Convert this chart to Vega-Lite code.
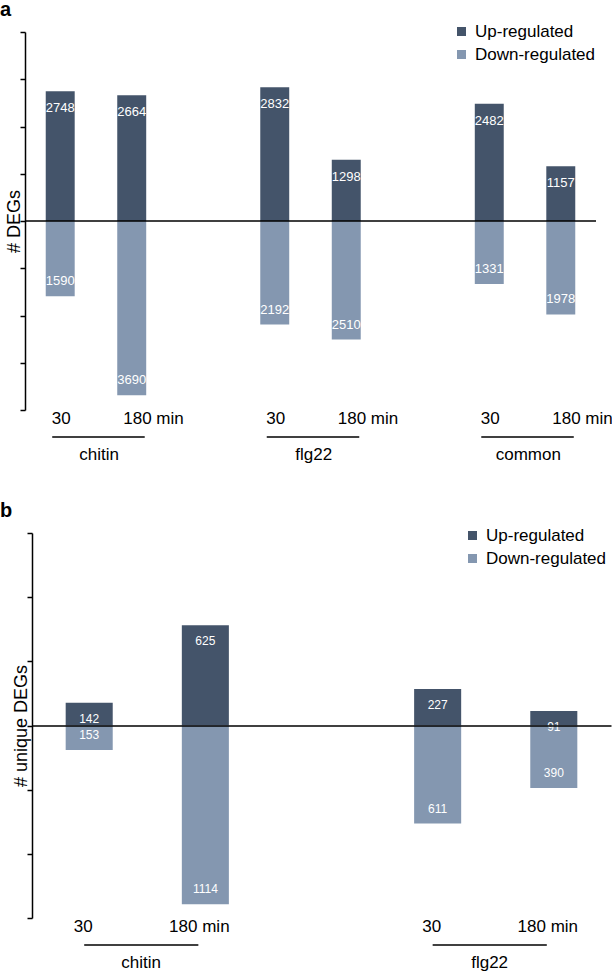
{
  "$schema": "https://vega.github.io/schema/vega-lite/v6.json",
  "padding": {"left": 0, "top": 0, "right": 0, "bottom": 0},
  "config": {
    "font": "Liberation Sans",
    "view": {"stroke": null},
    "title": {"color": "black"}
  },
  "datasets": {
    "barsA": [
      {"sample": "chitin 30", "dir": "Up-regulated", "n": 2748, "deg": 2748},
      {"sample": "chitin 30", "dir": "Down-regulated", "n": 1590, "deg": -1590},
      {"sample": "chitin 180", "dir": "Up-regulated", "n": 2664, "deg": 2664},
      {"sample": "chitin 180", "dir": "Down-regulated", "n": 3690, "deg": -3690},
      {"sample": "flg22 30", "dir": "Up-regulated", "n": 2832, "deg": 2832},
      {"sample": "flg22 30", "dir": "Down-regulated", "n": 2192, "deg": -2192},
      {"sample": "flg22 180", "dir": "Up-regulated", "n": 1298, "deg": 1298},
      {"sample": "flg22 180", "dir": "Down-regulated", "n": 2510, "deg": -2510},
      {"sample": "common 30", "dir": "Up-regulated", "n": 2482, "deg": 2482},
      {"sample": "common 30", "dir": "Down-regulated", "n": 1331, "deg": -1331},
      {"sample": "common 180", "dir": "Up-regulated", "n": 1157, "deg": 1157},
      {"sample": "common 180", "dir": "Down-regulated", "n": 1978, "deg": -1978}
    ],
    "labelsA": [
      {"row": "time", "sample": "chitin 30", "label": "30"},
      {"row": "time", "sample": "chitin 180", "label": "180 min"},
      {"row": "time", "sample": "flg22 30", "label": "30"},
      {"row": "time", "sample": "flg22 180", "label": "180 min"},
      {"row": "time", "sample": "common 30", "label": "30"},
      {"row": "time", "sample": "common 180", "label": "180 min"},
      {"row": "line", "sample": "chitin 30", "sample2": "chitin 180"},
      {"row": "line", "sample": "flg22 30", "sample2": "flg22 180"},
      {"row": "line", "sample": "common 30", "sample2": "common 180"},
      {"row": "group", "sample": "chitin 30", "label": "chitin"},
      {"row": "group", "sample": "flg22 30", "label": "flg22"},
      {"row": "group", "sample": "common 30", "label": "common"}
    ],
    "barsB": [
      {"sample": "chitin 30", "dir": "Up-regulated", "n": 142, "deg": 142},
      {"sample": "chitin 30", "dir": "Down-regulated", "n": 153, "deg": -153},
      {"sample": "chitin 180", "dir": "Up-regulated", "n": 625, "deg": 625},
      {"sample": "chitin 180", "dir": "Down-regulated", "n": 1114, "deg": -1114},
      {"sample": "flg22 30", "dir": "Up-regulated", "n": 227, "deg": 227},
      {"sample": "flg22 30", "dir": "Down-regulated", "n": 611, "deg": -611},
      {"sample": "flg22 180", "dir": "Up-regulated", "n": 91, "deg": 91},
      {"sample": "flg22 180", "dir": "Down-regulated", "n": 390, "deg": -390}
    ],
    "labelsB": [
      {"row": "time", "sample": "chitin 30", "label": "30"},
      {"row": "time", "sample": "chitin 180", "label": "180 min"},
      {"row": "time", "sample": "flg22 30", "label": "30"},
      {"row": "time", "sample": "flg22 180", "label": "180 min"},
      {"row": "line", "sample": "chitin 30", "sample2": "chitin 180"},
      {"row": "line", "sample": "flg22 30", "sample2": "flg22 180"},
      {"row": "group", "sample": "chitin 30", "label": "chitin"},
      {"row": "group", "sample": "flg22 30", "label": "flg22"}
    ]
  },
  "spacing": 37,
  "bounds": "full",
  "resolve": {"scale": {"x": "independent", "y": "independent", "color": "independent"}, "legend": {"color": "independent"}},
  "vconcat": [
    {
      "bounds": "flush",
      "spacing": 0,
      "resolve": {"scale": {"x": "independent", "y": "independent"}},
      "vconcat": [
        {
          "width": 571,
          "height": 378,
          "title": {"text": "a", "anchor": "start", "frame": "group", "dx": -25, "fontSize": 20, "fontWeight": "bold", "offset": 11},
          "data": {"name": "barsA"},
          "layer": [
            {
              "mark": {"type": "bar"},
              "encoding": {
                "x": {"field": "sample", "type": "nominal", "sort": null, "axis": null,
                  "scale": {"type": "band", "domain": ["chitin 30", "chitin 180", "gap1", "flg22 30", "flg22 180", "gap2", "common 30", "common 180"], "paddingInner": 0.595, "paddingOuter": 0.29}},
                "y": {"field": "deg", "type": "quantitative",
                  "scale": {"domain": [-4000, 4000], "nice": false},
                  "axis": {"values": [-4000, -3000, -2000, -1000, 0, 1000, 2000, 3000, 4000], "labels": false, "grid": false, "tickSize": 5, "tickColor": "black", "tickWidth": 1.5, "domainColor": "black", "domainWidth": 1.5, "title": "# DEGs", "titleFontSize": 18, "titleFontWeight": "normal", "titleColor": "black", "titlePadding": -4}},
                "color": {"field": "dir", "type": "nominal",
                  "scale": {"domain": ["Up-regulated", "Down-regulated"], "range": ["#44546A", "#8497B0"]},
                  "legend": {"title": null, "orient": "none", "legendX": 428, "legendY": -9, "symbolType": "square", "symbolSize": 81, "symbolStrokeWidth": 0, "symbolOpacity": 1, "labelFontSize": 17, "labelColor": "black", "labelOffset": 5, "rowPadding": 5, "padding": 0}}
              }
            },
            {
              "data": {"values": [{}]},
              "mark": {"type": "rule", "color": "black", "strokeWidth": 1.5},
              "encoding": {"y": {"datum": 0}}
            },
            {
              "transform": [{"filter": "datum.dir == 'Up-regulated'"}],
              "mark": {"type": "text", "baseline": "top", "dy": 11, "color": "white", "fontSize": 13},
              "encoding": {
                "x": {"field": "sample", "type": "nominal"},
                "y": {"field": "deg", "type": "quantitative"},
                "text": {"field": "n", "type": "nominal"}
              }
            },
            {
              "transform": [{"filter": "datum.dir == 'Down-regulated'"}],
              "mark": {"type": "text", "baseline": "bottom", "dy": -8, "color": "white", "fontSize": 13},
              "encoding": {
                "x": {"field": "sample", "type": "nominal"},
                "y": {"field": "deg", "type": "quantitative"},
                "text": {"field": "n", "type": "nominal"}
              }
            }
          ]
        },
        {
          "width": 571,
          "height": 54,
          "data": {"name": "labelsA"},
          "encoding": {
            "x": {"field": "sample", "type": "nominal", "sort": null, "axis": null,
              "scale": {"type": "band", "domain": ["chitin 30", "chitin 180", "gap1", "flg22 30", "flg22 180", "gap2", "common 30", "common 180"], "paddingInner": 0.595, "paddingOuter": 0.29}},
            "y": {"field": "row", "type": "nominal", "axis": null,
              "scale": {"type": "point", "domain": ["time", "line", "group"], "padding": 0.5}}
          },
          "layer": [
            {
              "transform": [{"filter": "datum.row == 'time'"}],
              "mark": {"type": "text", "align": "left", "dx": -8.5, "fontSize": 17, "color": "black"},
              "encoding": {"text": {"field": "label"}}
            },
            {
              "transform": [{"filter": "datum.row == 'line'"}],
              "mark": {"type": "rule", "color": "black", "strokeWidth": 1.5, "xOffset": -8, "x2Offset": 13},
              "encoding": {"x2": {"field": "sample2"}}
            },
            {
              "transform": [{"filter": "datum.row == 'group'"}],
              "mark": {"type": "text", "dx": 39, "fontSize": 17, "color": "black"},
              "encoding": {"text": {"field": "label"}}
            }
          ]
        }
      ]
    },
    {
      "bounds": "flush",
      "spacing": 0,
      "resolve": {"scale": {"x": "independent", "y": "independent"}},
      "vconcat": [
        {
          "width": 586,
          "height": 385,
          "title": {"text": "b", "anchor": "start", "frame": "group", "dx": -25, "fontSize": 20, "fontWeight": "bold", "offset": 11},
          "data": {"name": "barsB"},
          "layer": [
            {
              "mark": {"type": "bar"},
              "encoding": {
                "x": {"field": "sample", "type": "nominal", "sort": null,
                  "scale": {"type": "band", "domain": ["chitin 30", "chitin 180", "gap", "flg22 30", "flg22 180"], "range": [7, 586], "paddingInner": 0.595, "paddingOuter": 0.29},
                  "axis": {"orient": "top", "offset": -192.5, "labels": false, "ticks": false, "title": null, "domainColor": "black", "domainWidth": 1.5, "zindex": 1}},
                "y": {"field": "deg", "type": "quantitative",
                  "scale": {"domain": [-1200, 1200], "nice": false},
                  "axis": {"offset": -7, "values": [-1200, -800, -400, 0, 400, 800, 1200], "labels": false, "grid": false, "tickSize": 5, "tickColor": "black", "tickWidth": 1.5, "domainColor": "black", "domainWidth": 1.5, "title": "# unique DEGs", "titleFontSize": 18, "titleFontWeight": "normal", "titleColor": "black", "titlePadding": -4}},
                "color": {"field": "dir", "type": "nominal",
                  "scale": {"domain": ["Up-regulated", "Down-regulated"], "range": ["#44546A", "#8497B0"]},
                  "legend": {"title": null, "orient": "none", "legendX": 439, "legendY": -6, "symbolType": "square", "symbolSize": 81, "symbolStrokeWidth": 0, "symbolOpacity": 1, "labelFontSize": 17, "labelColor": "black", "labelOffset": 5, "rowPadding": 5, "padding": 0}}
              }
            },
            {
              "transform": [{"filter": "datum.dir == 'Up-regulated'"}],
              "mark": {"type": "text", "baseline": "top", "dy": 11, "color": "white", "fontSize": 12},
              "encoding": {
                "x": {"field": "sample", "type": "nominal"},
                "y": {"field": "deg", "type": "quantitative"},
                "text": {"field": "n", "type": "nominal"}
              }
            },
            {
              "transform": [{"filter": "datum.dir == 'Down-regulated'"}],
              "mark": {"type": "text", "baseline": "bottom", "dy": -8, "color": "white", "fontSize": 12},
              "encoding": {
                "x": {"field": "sample", "type": "nominal"},
                "y": {"field": "deg", "type": "quantitative"},
                "text": {"field": "n", "type": "nominal"}
              }
            }
          ]
        },
        {
          "width": 586,
          "height": 54,
          "data": {"name": "labelsB"},
          "encoding": {
            "x": {"field": "sample", "type": "nominal", "sort": null, "axis": null,
              "scale": {"type": "band", "domain": ["chitin 30", "chitin 180", "gap", "flg22 30", "flg22 180"], "range": [7, 586], "paddingInner": 0.595, "paddingOuter": 0.29}},
            "y": {"field": "row", "type": "nominal", "axis": null,
              "scale": {"type": "point", "domain": ["time", "line", "group"], "padding": 0.5}}
          },
          "layer": [
            {
              "transform": [{"filter": "datum.row == 'time'"}],
              "mark": {"type": "text", "dx": -6, "fontSize": 17, "color": "black"},
              "encoding": {"text": {"field": "label"}}
            },
            {
              "transform": [{"filter": "datum.row == 'line'"}],
              "mark": {"type": "rule", "color": "black", "strokeWidth": 1.5, "xOffset": -5, "x2Offset": -7},
              "encoding": {"x2": {"field": "sample2"}}
            },
            {
              "transform": [{"filter": "datum.row == 'group'"}],
              "mark": {"type": "text", "dx": 52, "fontSize": 17, "color": "black"},
              "encoding": {"text": {"field": "label"}}
            }
          ]
        }
      ]
    }
  ]
}
